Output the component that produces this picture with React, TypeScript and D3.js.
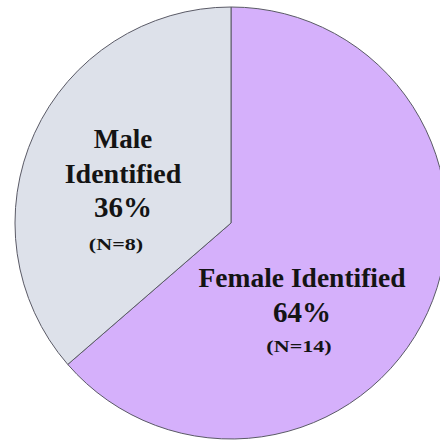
import React, { useEffect, useRef } from 'react';
import * as d3 from 'd3';

const categories = ['Female Identified', 'Male Identified'];
const counts = [14, 8];
const percents = ['64%', '36%'];
const nLabels = ['(N=14)', '(N=8)'];
const colors = ['#d5b0fb', '#dde1ea'];

const width = 440;
const height = 444;

const App: React.FC = () => {
  const svgRef = useRef<SVGSVGElement>(null);

  useEffect(() => {
    if (!svgRef.current) return;
    const svg = d3.select(svgRef.current);
    svg.selectAll('*').remove();

    const cx = 231;
    const cy = 223;
    const radius = 216;

    const pie = d3.pie<number>().sort(null).value(d => d);
    const arc = d3.arc<d3.PieArcDatum<number>>().innerRadius(0).outerRadius(radius);

    const g = svg.append('g').attr('transform', `translate(${cx},${cy})`);

    g.selectAll('path')
      .data(pie(counts))
      .enter()
      .append('path')
      .attr('d', arc)
      .attr('fill', (_d, i) => colors[i])
      .attr('stroke', '#5a5a66')
      .attr('stroke-width', 1);

    // label blocks, offsets from the pie centre
    const font = 'Liberation Serif, Times New Roman, Times, serif';

    // female label
    const f = g.append('g').attr('transform', 'translate(71,0)')
      .attr('font-family', font).attr('font-weight', 'bold').attr('fill', '#141414')
      .attr('text-anchor', 'middle');
    f.append('text').attr('y', 64).attr('font-size', 27.5).text(categories[0]);
    f.append('text').attr('y', 99).attr('font-size', 29).text(percents[0]);
    f.append('text').attr('transform', 'translate(-3,129) scale(1.3,1)').attr('font-size', 17).text(nLabels[0]);

    // male label
    const m = g.append('g').attr('transform', 'translate(-108,0)')
      .attr('font-family', font).attr('font-weight', 'bold').attr('fill', '#141414')
      .attr('text-anchor', 'middle');
    const maleWords = categories[1].split(' ');
    m.append('text').attr('y', -75).attr('font-size', 27).text(maleWords[0]);
    m.append('text').attr('y', -40).attr('font-size', 28).text(maleWords[1]);
    m.append('text').attr('y', -6).attr('font-size', 29).text(percents[1]);
    m.append('text').attr('transform', 'translate(-7,27) scale(1.3,1)').attr('font-size', 17).text(nLabels[1]);
  }, []);

  return (
    <svg
      ref={svgRef}
      width={width}
      height={height}
      style={{ position: 'absolute', left: 0, top: 0, background: '#fff' }}
    />
  );
};

export default App;
